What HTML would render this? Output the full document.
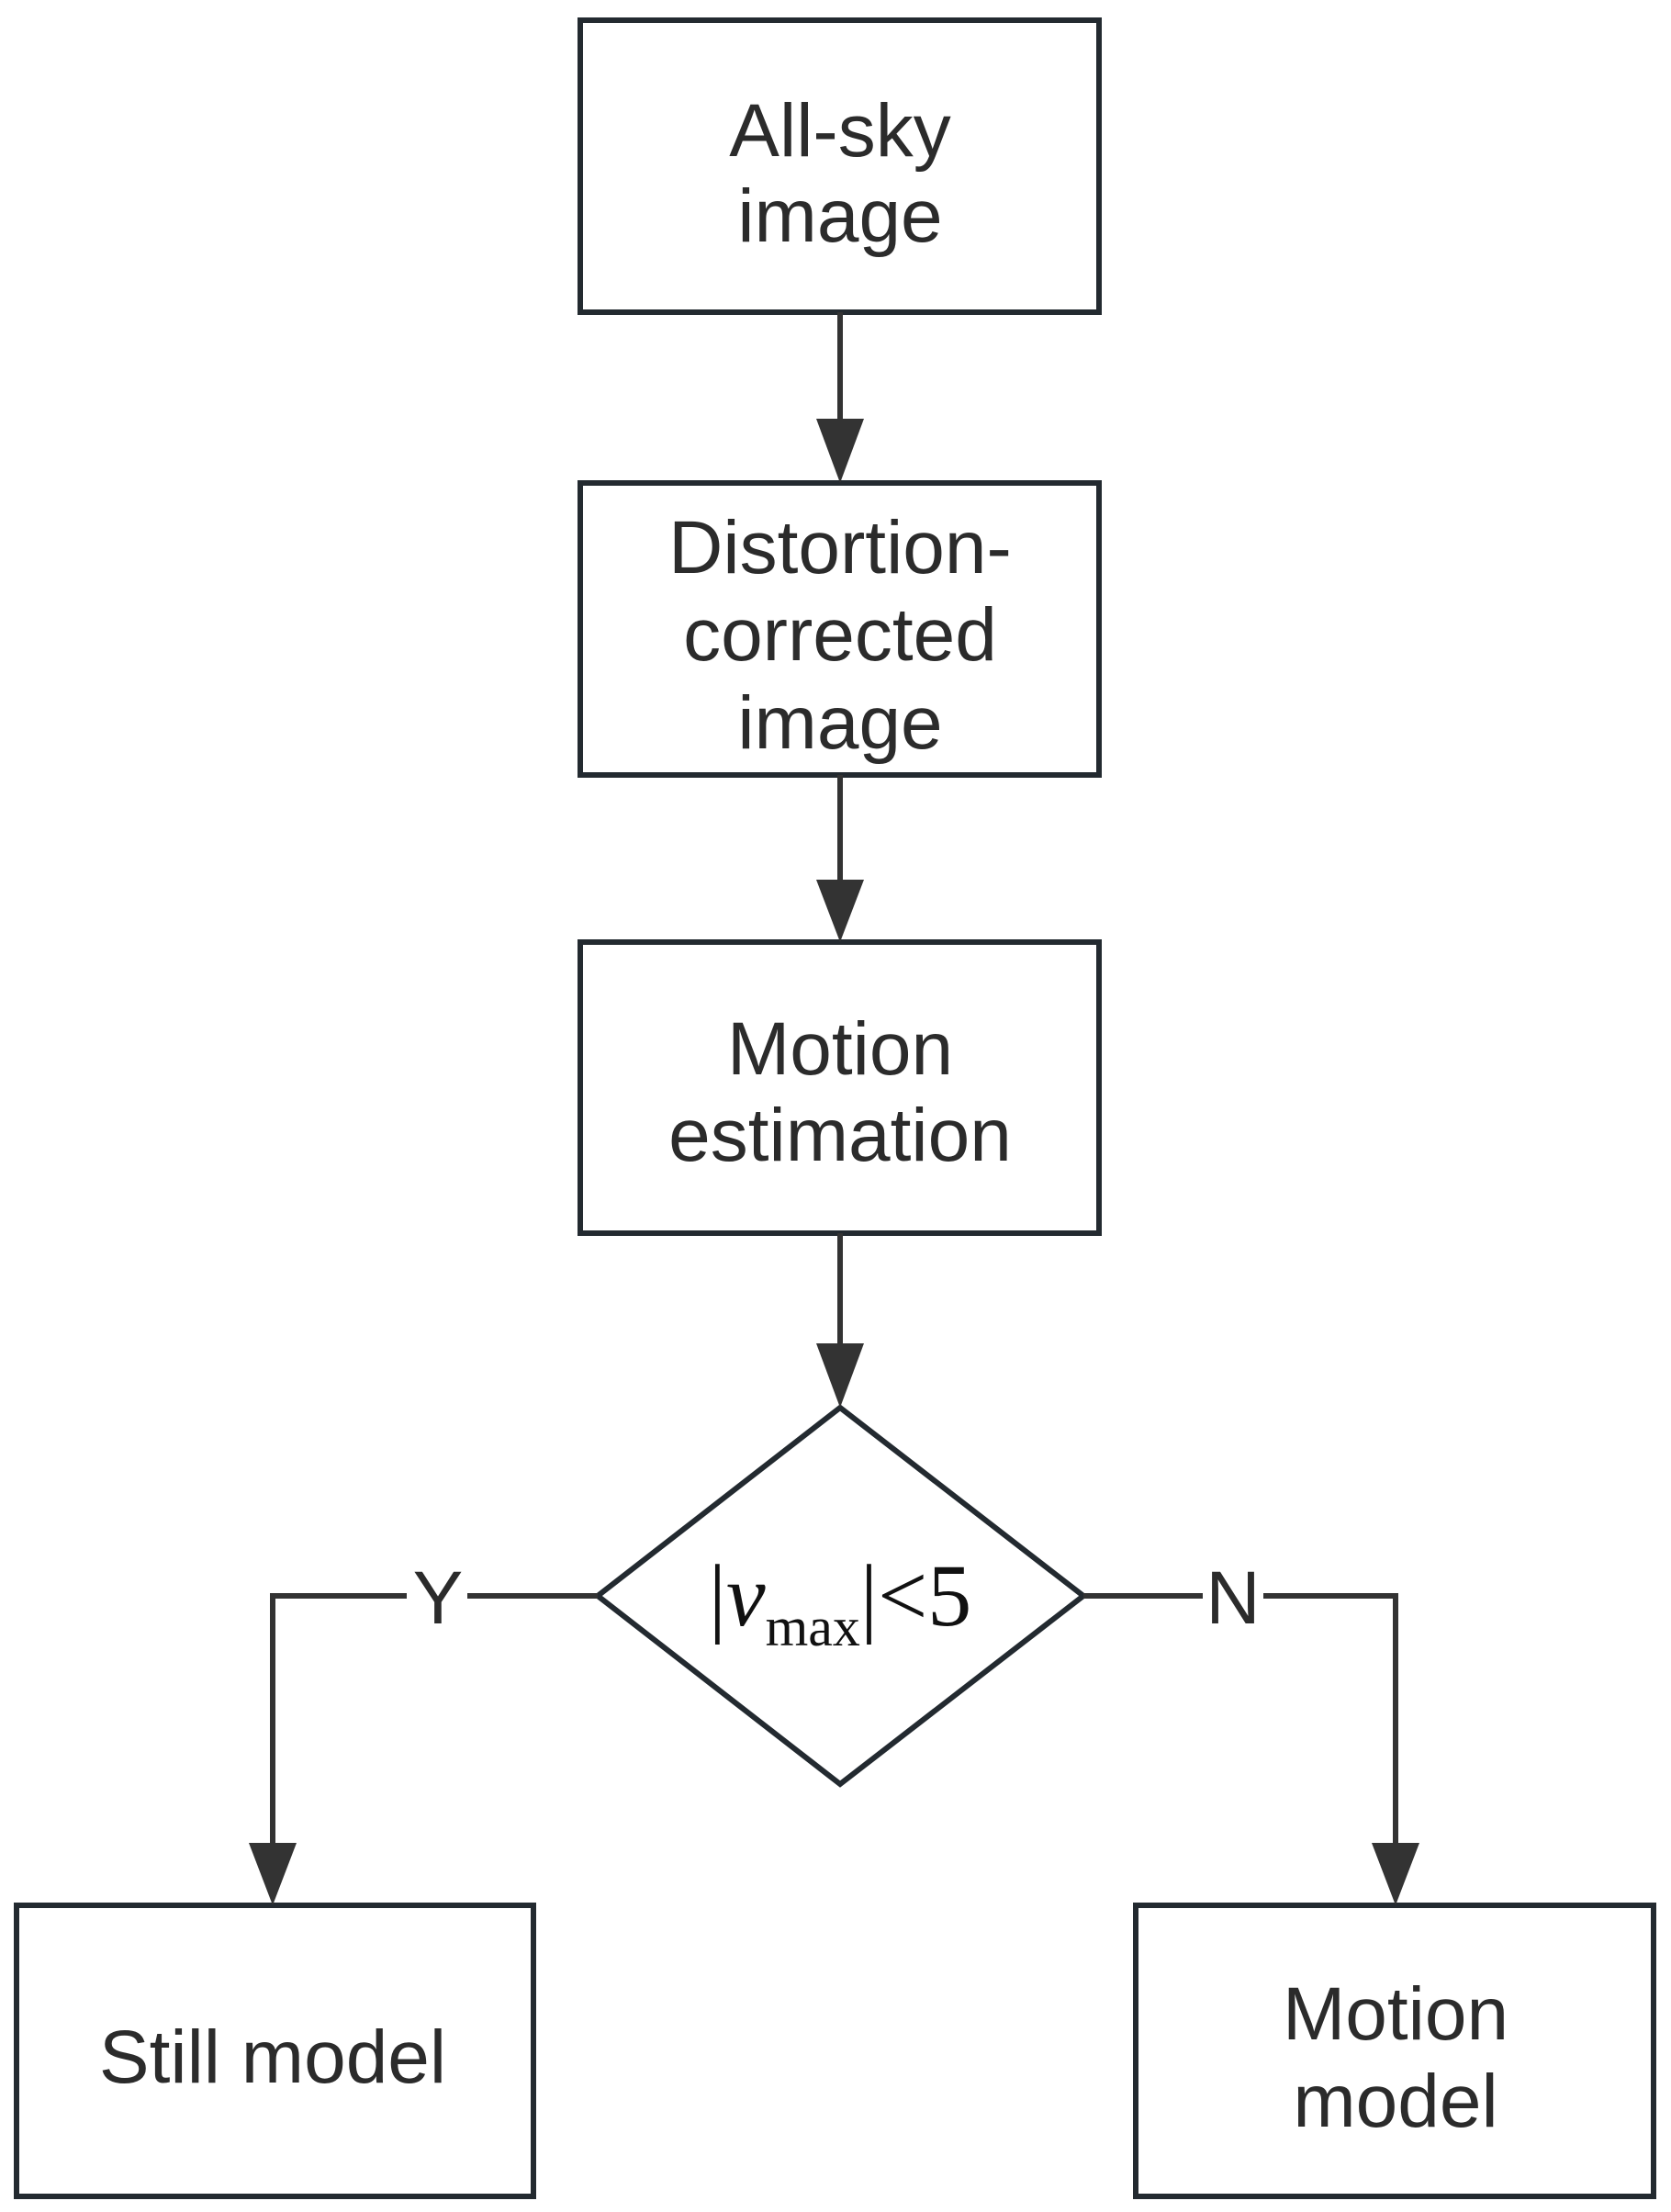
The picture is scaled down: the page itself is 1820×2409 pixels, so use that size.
<!DOCTYPE html>
<html><head><meta charset="utf-8"><style>
html,body{margin:0;padding:0;background:#fff;}
svg{display:block;}
text{font-family:"Liberation Sans",sans-serif;fill:#2b2b2b;font-size:82px;text-anchor:middle;}
</style></head><body>
<svg width="1820" height="2409" viewBox="0 0 1820 2409" xmlns="http://www.w3.org/2000/svg">
<g fill="none" stroke="#232a30" stroke-width="6">
<rect x="632" y="22" width="565" height="318"/>
<rect x="632" y="526" width="565" height="318"/>
<rect x="632" y="1026" width="565" height="317"/>
<rect x="18" y="2075" width="563" height="317"/>
<rect x="1237" y="2075" width="564" height="317"/>
<polygon points="915,1533 1180,1738 915,1943 651,1738"/>
</g>
<g fill="none" stroke="#333" stroke-width="6">
<line x1="915" y1="340" x2="915" y2="470"/>
<line x1="915" y1="844" x2="915" y2="970"/>
<line x1="915" y1="1343" x2="915" y2="1478"/>
<polyline points="651,1738 297,1738 297,2020"/>
<polyline points="1180,1738 1520,1738 1520,2020"/>
</g>
<rect x="443" y="1700" width="66" height="76" fill="#fff"/>
<rect x="1310" y="1700" width="66" height="76" fill="#fff"/>
<g fill="#333">
<polygon points="889,456 941,456 915,526"/>
<polygon points="889,958 941,958 915,1026"/>
<polygon points="889,1463 941,1463 915,1533"/>
<polygon points="271,2007 323,2007 297,2075"/>
<polygon points="1494,2007 1546,2007 1520,2075"/>
</g>
<text x="915" y="170">All-sky</text>
<text x="915" y="263">image</text>
<text x="915" y="624">Distortion-</text>
<text x="915" y="719">corrected</text>
<text x="915" y="815">image</text>
<text x="915" y="1170">Motion</text>
<text x="915" y="1264">estimation</text>
<text x="297" y="2268">Still model</text>
<text x="1520" y="2221">Motion</text>
<text x="1520" y="2316">model</text>
<text x="477" y="1768">Y</text>
<text x="1343" y="1768">N</text>
<text x="915" y="1770" style="font-family:'Liberation Serif',serif;font-size:96px;fill:#111">|<tspan font-style="italic">v</tspan><tspan font-size="60" dy="22">max</tspan><tspan dy="-22">|&lt;5</tspan></text>
</svg>
</body></html>
